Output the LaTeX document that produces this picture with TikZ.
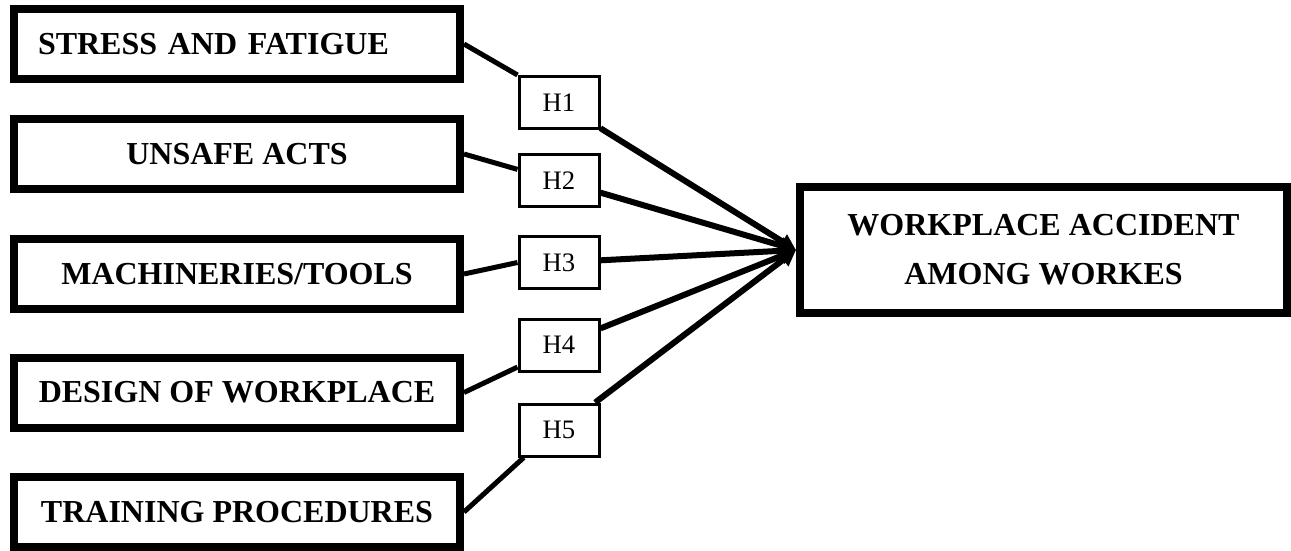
\documentclass[tikz,border=0pt]{standalone}
\usepackage{fontspec}
\setmainfont{Liberation Serif}
\usetikzlibrary{arrows.meta}
\begin{document}
\begin{tikzpicture}[x=0.75pt,y=0.75pt,yscale=-1,xscale=1,
  factor/.style={draw, line width=6pt, minimum width=334.5pt, minimum height=52.5pt, inner sep=0pt, font=\fontsize{24}{28}\selectfont\bfseries},
  hypo/.style={draw, line width=2.25pt, minimum width=60pt, minimum height=39pt, inner sep=0pt, font=\fontsize{20}{24}\selectfont},
  outcome/.style={draw, line width=6pt, minimum width=365.25pt, minimum height=94.5pt, inner sep=0pt, align=center, font=\fontsize{24}{36.75}\selectfont\bfseries},
  link/.style={line width=3.75pt},
  effect/.style={line width=4.5pt, -{Triangle[length=12pt,width=12pt]}}]
%uncomment if require: \path (0,550); %set diagram left start at 0, and has height of 550
\useasboundingbox (0,0) rectangle (1291,550);

% Factor boxes
\draw (237,44) node [factor] [text width=298.5pt, inner xsep=18pt] [align=left] (stress) {STRESS AND FATIGUE};
\draw (237,154) node [factor] (unsafe) {UNSAFE ACTS};
\draw (237,274) node [factor] (machine) {MACHINERIES/TOOLS};
\draw (237,392.5) node [factor] (design) {DESIGN OF WORKPLACE};
\draw (237,512) node [factor] (training) {TRAINING PROCEDURES};

% Hypothesis boxes
\draw (559,102.5) node [hypo] (h1) {H1};
\draw (559,180.5) node [hypo] (h2) {H2};
\draw (559,262.5) node [hypo] (h3) {H3};
\draw (559,345) node [hypo] (h4) {H4};
\draw (559,430) node [hypo] (h5) {H5};

% Outcome box
\draw (1043.5,250) node [outcome] (accident) {WORKPLACE ACCIDENT\\AMONG WORKES};

% Factor to hypothesis
\draw [link] (stress.east) -- (h1.north west);
\draw [link] (unsafe.east) -- (h2.165);
\draw [link] (machine.east) -- (h3.west);
\draw [link] (design.east) -- (h4.208);
\draw [link] (training.east) -- (h5.218);

% Hypothesis to outcome
\foreach \h in {h1,h2,h3,h4,h5}
  \draw [effect] (\h) -- (accident.west);

\end{tikzpicture}
\end{document}
